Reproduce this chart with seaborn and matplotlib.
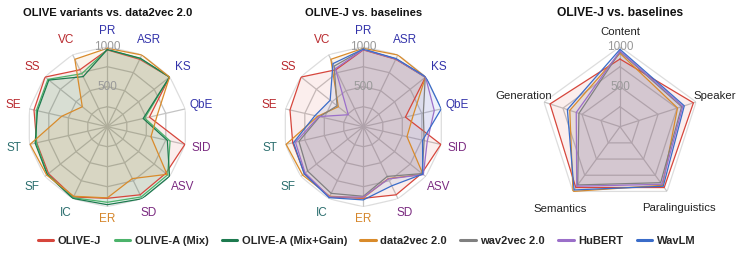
import numpy as np
import pandas as pd
import matplotlib
matplotlib.use("Agg")
import matplotlib.pyplot as plt
import seaborn as sns
from matplotlib.lines import Line2D

# ---------------- data ----------------
tasks = ["PR", "ASR", "KS", "QbE", "SID", "ASV", "SD", "ER", "IC", "SF", "ST", "SE", "SS", "VC"]
task_colors = ["#3333aa", "#3333aa", "#3333aa", "#3333aa", "#7a2a80", "#7a2a80", "#7a2a80",
               "#d5862b", "#2b6e6e", "#2b6e6e", "#2b6e6e", "#b8282d", "#b8282d", "#b8282d"]

olive_j = [960, 935, 995, 540, 995, 935, 945, 895, 975, 940, 905, 940, 995, 790]
olive_a_mix = [965, 945, 995, 480, 805, 965, 975, 945, 985, 955, 910, 910, 950, 735]
olive_a_gain = [965, 950, 995, 460, 770, 995, 1000, 975, 995, 960, 925, 895, 935, 695]
data2vec = [980, 995, 995, 640, 560, 955, 720, 890, 965, 970, 990, 585, 400, 935]
wav2vec = [965, 940, 990, 770, 780, 940, 690, 870, 925, 890, 825, 560, 420, 840]
hubert = [965, 940, 995, 910, 820, 960, 725, 880, 975, 930, 870, 570, 240, 805]
wavlm = [970, 945, 1000, 1000, 760, 950, 820, 915, 985, 945, 895, 620, 530, 875]

groups = ["Content", "Speaker", "Paralinguistics", "Semantics", "Generation"]
g_olive_j = [846, 965, 940, 940, 920]
g_data2vec = [917, 756, 905, 1000, 660]
g_wav2vec = [937, 810, 865, 900, 540]
g_hubert = [946, 825, 890, 920, 575]
g_wavlm = [967, 845, 920, 977, 692]

model_names = ["OLIVE-J", "OLIVE-A (Mix)", "OLIVE-A (Mix+Gain)", "data2vec 2.0",
               "wav2vec 2.0", "HuBERT", "WavLM"]
model_colors = {"OLIVE-J": "#d6463c", "OLIVE-A (Mix)": "#4cb36b",
                "OLIVE-A (Mix+Gain)": "#1d7a4f", "data2vec 2.0": "#d98b2b",
                "wav2vec 2.0": "#808080", "HuBERT": "#9b6fc9", "WavLM": "#3a6cc9"}

# ---------------- style ----------------
sns.set_theme(style="white")
plt.rcParams["font.family"] = ["Liberation Sans", "DejaVu Sans"]

W, H = 742, 257
fig = plt.figure(figsize=(W / 100, H / 100), dpi=100)

RMAX = 1000
R_PX = 80.0


def radar(cx_px, cy_px, labels, label_colors, series, title, title_size, label_rs, label_size):
    w = 2 * R_PX / W
    h = 2 * R_PX / H
    cx = cx_px / W
    cy = 1 - cy_px / H
    ax = fig.add_axes([cx - w / 2, cy - h / 2, w, h], projection="polar")
    ax.set_theta_zero_location("N")
    ax.set_theta_direction(-1)
    ax.patch.set_alpha(0)
    n = len(labels)
    theta = np.linspace(0, 2 * np.pi, n, endpoint=False)
    theta_c = np.append(theta, 2 * np.pi)

    # polygon grid
    for r in [250, 500, 750, 1000]:
        col = "#dddddd" if r == 1000 else "#c4c4c4"
        ax.plot(theta_c, [r] * (n + 1), color=col, lw=0.9, zorder=0)
    for t in theta:
        ax.plot([t, t], [0, RMAX], color="#c4c4c4", lw=0.9, zorder=0)

    # series via seaborn
    rows = []
    for name, vals in series:
        v = list(vals) + [vals[0]]
        for t, val in zip(theta_c, v):
            rows.append({"theta": t, "value": val, "model": name})
        ax.fill(theta_c, v, color=model_colors[name], alpha=0.09, lw=0, zorder=1)
    df = pd.DataFrame(rows)
    sns.lineplot(data=df, x="theta", y="value", hue="model",
                 palette={nm: model_colors[nm] for nm, _ in series},
                 hue_order=[nm for nm, _ in series],
                 sort=False, estimator=None, legend=False, lw=0.9, ax=ax, zorder=2)

    ax.set_ylim(0, RMAX)
    ax.set_xticks([])
    ax.set_yticks([])
    ax.grid(False)
    ax.spines["polar"].set_visible(False)
    ax.set_xlabel("")
    ax.set_ylabel("")

    for t, lab, lc, lr in zip(theta, labels, label_colors, label_rs):
        ax.text(t, lr, lab, color=lc, fontsize=label_size, ha="center", va="center",
                clip_on=False)
    ax.text(0, 1000, "1000", color="#999999", fontsize=8.5, ha="center", va="center", zorder=5)
    ax.text(0, 500, "500", color="#999999", fontsize=8.5, ha="center", va="center", zorder=5)

    fig.text(cx, 1 - 13 / H, title, fontsize=title_size, fontweight="bold",
             ha="center", va="center", color="#111111")
    return ax


task_rs = [1200] * 7 + [1160] + [1200] * 6
radar(107.3, 126.7, tasks, task_colors,
      [("OLIVE-J", olive_j), ("OLIVE-A (Mix)", olive_a_mix),
       ("OLIVE-A (Mix+Gain)", olive_a_gain), ("data2vec 2.0", data2vec)],
      "OLIVE variants vs. data2vec 2.0", 8.1, task_rs, 8.5)

radar(363.3, 126.7, tasks, task_colors,
      [("OLIVE-J", olive_j), ("data2vec 2.0", data2vec), ("wav2vec 2.0", wav2vec),
       ("HuBERT", hubert), ("WavLM", wavlm)],
      "OLIVE-J vs. baselines", 8.1, task_rs, 8.5)

radar(620.0, 126.7, groups, ["#222222"] * 5,
      [("OLIVE-J", g_olive_j), ("data2vec 2.0", g_data2vec), ("wav2vec 2.0", g_wav2vec),
       ("HuBERT", g_hubert), ("WavLM", g_wavlm)],
      "OLIVE-J vs. baselines", 8.7, [1180, 1240, 1250, 1270, 1260], 8.2)

handles = [Line2D([0], [0], color=model_colors[m], lw=2.2) for m in model_names]
leg = fig.legend(handles, model_names, loc="center", bbox_to_anchor=(0.494, 1 - 241 / H),
                 ncol=7, frameon=False, handlelength=1.4, handletextpad=0.4,
                 columnspacing=1.2, prop={"weight": "bold", "size": 8})

fig.savefig("out.png", dpi=100)
